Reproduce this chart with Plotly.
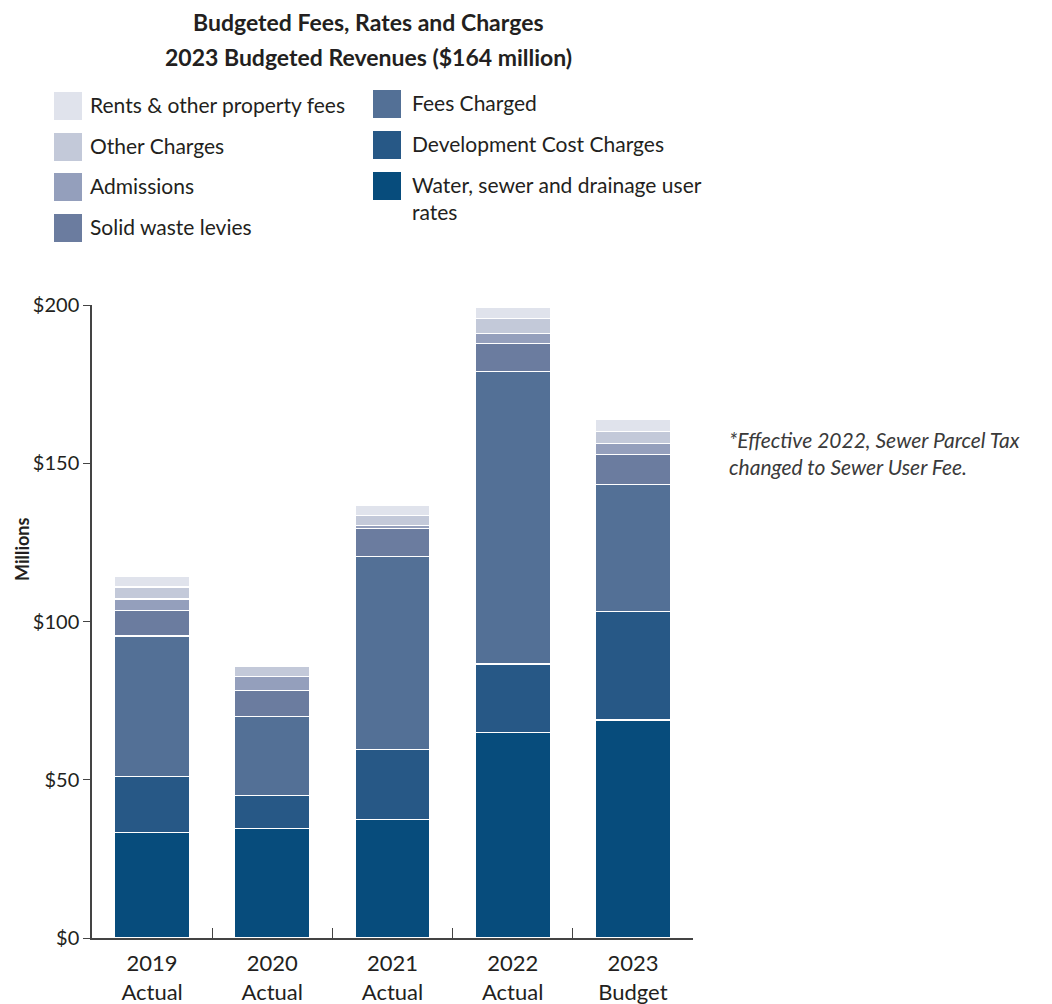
import plotly.graph_objects as go

# Revenue by source, $ millions
years = ["2019<br>Actual", "2020<br>Actual", "2021<br>Actual", "2022<br>Actual", "2023<br>Budget"]
water_sewer_drainage = [33.3, 34.5, 37.4, 65.0, 68.9]
development_cost_charges = [17.7, 10.5, 22.2, 21.6, 34.2]
fees_charged = [44.4, 24.9, 61.0, 92.3, 40.3]
solid_waste_levies = [8.0, 8.2, 8.7, 9.0, 9.4]
admissions = [3.7, 4.4, 1.0, 3.1, 3.5]
other_charges = [3.8, 3.4, 3.2, 4.7, 3.8]
rents_property_fees = [3.3, 0.0, 3.3, 3.6, 3.6]

y_tickvals = [0, 50, 100, 150, 200]
y_ticktext = ["$0", "$50", "$100", "$150", "$200"]

series = [
    ("Water, sewer and drainage user rates", water_sewer_drainage, "#074c7c"),
    ("Development Cost Charges", development_cost_charges, "#275886"),
    ("Fees Charged", fees_charged, "#537096"),
    ("Solid waste levies", solid_waste_levies, "#6b7c9f"),
    ("Admissions", admissions, "#949fbc"),
    ("Other Charges", other_charges, "#c3c9d9"),
    ("Rents & other property fees", rents_property_fees, "#e0e3ec"),
]

FONT = "Lato"
TEXT = "#231f20"

# plot area in pixels
W_PX, H_PX = 1052, 1004
L, R, T, B = 92, 693, 305, 938
PW, PH = R - L, B - T


def px_x(px):
    return (px - L) / PW


def px_y(py):
    return (B - py) / PH


fig = go.Figure()
for name, vals, color in series:
    fig.add_trace(go.Bar(
        x=years, y=vals, name=name, width=0.625,
        marker=dict(color=color, line=dict(color="white", width=1.2)),
        showlegend=False,
    ))

shapes = []
annotations = []

# Two-column key
legend_left = [
    ("Rents & other property fees", "#e0e3ec", 106),
    ("Other Charges", "#c3c9d9", 147),
    ("Admissions", "#949fbc", 187),
    ("Solid waste levies", "#6b7c9f", 228),
]
legend_right = [
    ("Fees Charged", "#537096", 104),
    ("Development Cost Charges", "#275886", 145),
    ("Water, sewer and drainage user<br>rates", "#074c7c", 186),
]
for items, sx, tx in [(legend_left, 54, 88), (legend_right, 373, 410)]:
    for label, color, cy in items:
        shapes.append(dict(
            type="rect", xref="paper", yref="paper",
            x0=px_x(sx), x1=px_x(sx + 28), y0=px_y(cy + 14), y1=px_y(cy - 14),
            fillcolor=color, line=dict(width=0),
        ))
        annotations.append(dict(
            xref="paper", yref="paper", x=px_x(tx), y=px_y(cy - 16),
            xanchor="left", yanchor="top", align="left", showarrow=False,
            text=label, font=dict(family=FONT, size=21, color=TEXT),
        ))

# Title, one annotation per line
for line, cy in [("Budgeted Fees, Rates and Charges", 22),
                 ("2023 Budgeted Revenues ($164 million)", 57)]:
    annotations.append(dict(
        xref="paper", yref="paper", x=px_x(368), y=px_y(cy),
        xanchor="center", yanchor="middle", showarrow=False,
        text=f"<b>{line}</b>", font=dict(family=FONT, size=23, color=TEXT),
    ))

# Footnote
annotations.append(dict(
    xref="paper", yref="paper", x=px_x(727), y=px_y(425),
    xanchor="left", yanchor="top", showarrow=False, align="left",
    text="<i>*Effective 2022, Sewer Parcel Tax<br>changed to Sewer User Fee.</i>",
    font=dict(family=FONT, size=21, color="#3a3a3a"),
))

# Y axis title
annotations.append(dict(
    xref="paper", yref="paper", x=px_x(22), y=px_y(550),
    xanchor="center", yanchor="middle", showarrow=False, textangle=-90,
    text="<b>Millions</b>", font=dict(family=FONT, size=18, color=TEXT),
))

fig.update_layout(
    width=W_PX, height=H_PX,
    margin=dict(l=L, r=W_PX - R, t=T, b=H_PX - B, autoexpand=False),
    barmode="stack",
    plot_bgcolor="white", paper_bgcolor="white",
    font=dict(family=FONT, color=TEXT),
    shapes=shapes, annotations=annotations,
    xaxis=dict(
        range=[-0.5, 4.5], showline=True, linecolor="#444", linewidth=1.5,
        ticks="inside", tickson="boundaries", ticklen=10, tickcolor="#444",
        tickwidth=1.2, showgrid=False, ticklabelstandoff=5,
        tickfont=dict(family=FONT, size=22, color=TEXT),
    ),
    yaxis=dict(
        range=[0, 200], showline=True, linecolor="#444", linewidth=1.5,
        ticks="outside", ticklen=7, tickcolor="#444", tickwidth=1.2,
        tickvals=y_tickvals, ticktext=y_ticktext, showgrid=False, zeroline=False,
        tickfont=dict(family=FONT, size=20, color=TEXT),
    ),
)

fig.write_html("out.html")
